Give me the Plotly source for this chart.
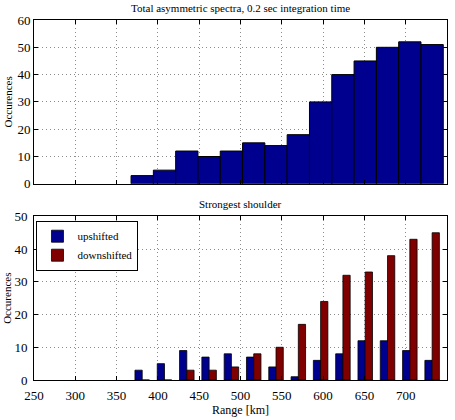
import plotly.graph_objects as go

range_km = [381, 408, 435, 462, 489, 516, 543, 570, 597, 624, 651, 678, 705, 732]
total_counts = [3, 5, 12, 10, 12, 15, 14, 18, 30, 40, 45, 50, 52, 51]
upshifted = [3, 5, 9, 7, 8, 7, 4, 1, 6, 8, 12, 12, 9, 6]
downshifted = [0, 0, 3, 3, 4, 8, 10, 17, 24, 32, 33, 38, 43, 45]
x_ticks = [250, 300, 350, 400, 450, 500, 550, 600, 650, 700, 750]

BLUE = "#00008F"
RED = "#800000"
FONT = "Times New Roman, Liberation Serif, serif"

fig = go.Figure()

fig.add_trace(go.Bar(x=range_km, y=total_counts, width=27, marker=dict(color=BLUE, line=dict(color="black", width=1)),
                     showlegend=False, xaxis="x", yaxis="y"))
fig.add_trace(go.Bar(x=range_km, y=upshifted, name="upshifted", offsetgroup="u",
                     marker=dict(color=BLUE, line=dict(color="black", width=0.8)), xaxis="x2", yaxis="y2"))
fig.add_trace(go.Bar(x=range_km, y=downshifted, name="downshifted", offsetgroup="d",
                     marker=dict(color=RED, line=dict(color="black", width=0.8)), xaxis="x2", yaxis="y2"))

axis_common = dict(showline=True, linecolor="black", linewidth=1, mirror="ticks", ticks="inside", ticklen=4,
                   tickcolor="black", showgrid=True, gridcolor="#8c8c8c", griddash="1px,3px", gridwidth=1,
                   zeroline=False, tickfont=dict(family=FONT, size=13, color="black"))

fig.update_layout(
    width=455, height=420,
    margin=dict(l=31, r=7, t=20, b=37),
    paper_bgcolor="white", plot_bgcolor="white",
    barmode="group", bargap=0.35, bargroupgap=0,
    font=dict(family=FONT, size=11, color="black"),
    xaxis=dict(axis_common, range=[250, 750], tickvals=x_ticks, showticklabels=False, anchor="y", domain=[0, 1]),
    yaxis=dict(axis_common, range=[0, 60], dtick=10, domain=[0.545, 1], anchor="x",
               title=dict(text="Occurences", font=dict(family=FONT, size=11), standoff=2)),
    xaxis2=dict(axis_common, range=[250, 750], tickvals=x_ticks, anchor="y2", domain=[0, 1], ticklabelstandoff=3,
                title=dict(text="Range [km]", font=dict(family=FONT, size=12), standoff=2)),
    yaxis2=dict(axis_common, range=[0, 50], dtick=10, domain=[0, 0.4545], anchor="x2", ticklabelstandoff=3,
                title=dict(text="Occurences", font=dict(family=FONT, size=11), standoff=0)),
    legend=dict(x=0.006, y=0.4545 - 0.012, xref="paper", yref="paper", xanchor="left", yanchor="top",
                bgcolor="white", bordercolor="black", borderwidth=1,
                font=dict(family=FONT, size=11), tracegroupgap=0, itemwidth=30),
    annotations=[
        dict(text="Total asymmetric spectra, 0.2 sec integration time", x=0.5, y=1, xref="paper", yref="paper",
             yshift=4, xanchor="center", yanchor="bottom", showarrow=False, font=dict(family=FONT, size=11)),
        dict(text="Strongest shoulder", x=0.5, y=0.4545, xref="paper", yref="paper",
             yshift=4, xanchor="center", yanchor="bottom", showarrow=False, font=dict(family=FONT, size=11)),
    ],
)

fig.write_html("out.html")
